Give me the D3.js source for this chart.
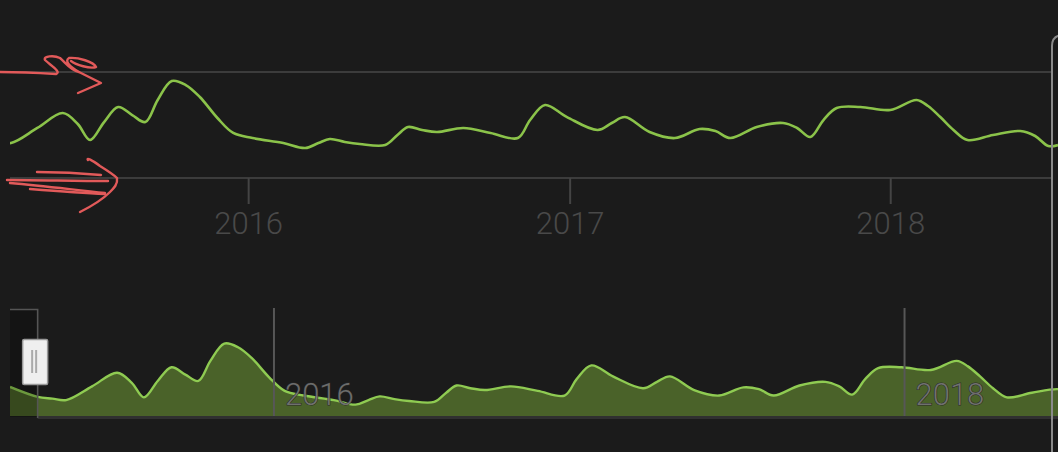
<!DOCTYPE html>
<html>
<head>
<meta charset="utf-8">
<script src="https://cdn.jsdelivr.net/npm/d3@7"></script>
<style>
  html, body { margin: 0; padding: 0; background: #1b1b1b; }
  svg { display: block; }
</style>
</head>
<body>
<svg id="chart" width="1058" height="452"></svg>
<script>
// ---- data ----
const dates = [
  "2015-01-31","2015-03-04","2015-03-21","2015-04-06","2015-05-06","2015-06-04","2015-06-21",
  "2015-07-05","2015-07-21","2015-08-06","2015-08-22","2015-09-06","2015-09-20","2015-10-06",
  "2015-10-22","2015-11-07","2015-11-27","2015-12-15","2016-01-06","2016-02-10","2016-03-06",
  "2016-03-21","2016-04-03","2016-04-20","2016-05-07","2016-06-05","2016-06-19","2016-07-01",
  "2016-07-17","2016-08-03","2016-09-02","2016-10-03","2016-11-03","2016-11-17","2016-12-04",
  "2016-12-29","2017-02-02","2017-02-18","2017-03-05","2017-04-02","2017-05-01","2017-05-29",
  "2017-06-16","2017-07-03","2017-08-02","2017-09-01","2017-09-17","2017-10-02","2017-10-17",
  "2017-11-01","2017-11-28","2018-01-01","2018-01-31","2018-02-13","2018-02-27","2018-03-14",
  "2018-03-30","2018-04-28","2018-05-29","2018-06-15","2018-06-30","2018-07-11"
];
const values = [
  46.6, 36.3, 34.5, 33.0, 47.2, 61.3, 50.9,
  35.8, 52.8, 67.0, 59.4, 52.8, 73.6, 91.5,
  87.7, 76.4, 56.6, 42.5, 37.7, 33.0, 28.3,
  33.0, 36.8, 34.0, 32.1, 31.1, 40.6, 48.1,
  45.3, 43.4, 47.2, 42.5, 37.7, 54.7, 68.9,
  57.5, 45.3, 51.9, 57.5, 43.4, 37.7, 46.2,
  44.3, 37.7, 48.1, 51.9, 47.2, 38.7, 54.7,
  66.0, 67.0, 64.2, 73.6, 67.9, 57.5, 45.3,
  35.8, 40.6, 44.3, 39.6, 30.2, 31.1
];
const mainRange = ["2015-04-06", "2018-07-11"];
const mainTicks = ["2016-01-01", "2017-01-01", "2018-01-01"];
const mainTickLabels = ["2016", "2017", "2018"];
const mainYDomain = [0, 100];
const mainYGrid = [0, 100];
const navRange = ["2015-01-31", "2018-07-11"];
const navTicks = ["2015-12-02", "2017-12-01"];
const navTickLabels = ["2016", "2018"];
const navYDomain = [16.5, 91.5];
const navSelectionStart = "2015-03-04";

// ---- setup ----
const parse = d3.utcParse("%Y-%m-%d");
const data = dates.map((d, i) => ({ date: parse(d), value: values[i] }));
const svg = d3.select("#chart");
const W = 1058, H = 452;
const curve = d3.curveCatmullRom.alpha(0.5);

svg.append("rect").attr("width", W).attr("height", H).attr("fill", "#1b1b1b");

const defs = svg.append("defs");
defs.append("clipPath").attr("id", "clipMain")
  .append("rect").attr("x", 10).attr("y", 40).attr("width", W - 10).attr("height", 160);
defs.append("clipPath").attr("id", "clipNav")
  .append("rect").attr("x", 10).attr("y", 300).attr("width", W - 10).attr("height", 117);

// ---- main chart ----
const x = d3.scaleUtc().domain(mainRange.map(parse)).range([11, 1058]);
const y = d3.scaleLinear().domain(mainYDomain).range([178, 72]);

const main = svg.append("g");
main.selectAll("line.grid").data(mainYGrid).join("line")
  .attr("class", "grid")
  .attr("x1", 10).attr("x2", 1052)
  .attr("y1", d => y(d)).attr("y2", d => y(d))
  .attr("stroke", "#3c3c3c").attr("stroke-width", 2);

const xAxis = d3.axisBottom(x)
  .tickValues(mainTicks.map(parse))
  .tickFormat((d, i) => mainTickLabels[i])
  .tickSize(26).tickPadding(8);
const gx = main.append("g").attr("transform", `translate(0,${y(0)})`).call(xAxis);
gx.select(".domain").remove();
gx.selectAll(".tick line").attr("stroke", "#444").attr("stroke-width", 2);
gx.selectAll(".tick text")
  .attr("fill", "#494949")
  .attr("font-family", "Roboto, 'Open Sans', sans-serif")
  .attr("font-weight", 300)
  .attr("font-size", 31);

const line = d3.line().x(d => x(d.date)).y(d => y(d.value)).curve(curve);
main.append("path").datum(data)
  .attr("clip-path", "url(#clipMain)")
  .attr("d", line)
  .attr("fill", "none")
  .attr("stroke", "#8bc34a")
  .attr("stroke-width", 2.6);

// ---- navigator ----
const nx = d3.scaleUtc().domain(navRange.map(parse)).range([10, 1095.8]);
const ny = d3.scaleLinear().domain(navYDomain).range([416, 343.6]);
const nav = svg.append("g");

const area = d3.area().x(d => nx(d.date)).y0(416).y1(d => ny(d.value)).curve(curve);
const nline = d3.line().x(d => nx(d.date)).y(d => ny(d.value)).curve(curve);

nav.append("path").datum(data)
  .attr("clip-path", "url(#clipNav)")
  .attr("d", area).attr("fill", "#4a6229");
nav.append("path").datum(data)
  .attr("clip-path", "url(#clipNav)")
  .attr("d", nline).attr("fill", "none")
  .attr("stroke", "#8fcb52").attr("stroke-width", 2.4);

// navigator axis (grid lines + labels)
const nAxis = d3.axisTop(nx)
  .tickValues(navTicks.map(parse))
  .tickFormat((d, i) => navTickLabels[i])
  .tickSize(108).tickPadding(0);
const gnx = nav.append("g").attr("transform", "translate(0,416)").call(nAxis);
gnx.select(".domain").remove();
gnx.selectAll(".tick line").attr("stroke", "#575757").attr("stroke-width", 2);
gnx.selectAll(".tick text")
  .attr("text-anchor", "start")
  .attr("x", 11).attr("y", -11)
  .attr("fill", "#7a7a7a")
  .attr("fill-opacity", 0.85)
  .attr("stroke", "#2a2a2a")
  .attr("stroke-width", 1)
  .attr("paint-order", "stroke")
  .attr("font-family", "Roboto, 'Open Sans', sans-serif")
  .attr("font-weight", 300)
  .attr("font-size", 31);

// mask over unselected part
const selX = nx(parse(navSelectionStart));
nav.append("rect")
  .attr("x", 10).attr("y", 309).attr("width", selX - 10).attr("height", 108)
  .attr("fill", "#000").attr("fill-opacity", 0.25);

// bottom band + outline
nav.append("rect").attr("x", selX).attr("y", 416).attr("width", W - selX).attr("height", 3)
  .attr("fill", "#303030");
nav.append("path")
  .attr("d", `M10,309.5 L${selX},309.5 L${selX},418`)
  .attr("fill", "none").attr("stroke", "#555").attr("stroke-width", 1.6);

// handle
const hx = selX - 15;
nav.append("rect")
  .attr("x", hx).attr("y", 339.5).attr("width", 25).attr("height", 45)
  .attr("rx", 1.5)
  .attr("fill", "#efefef").attr("stroke", "#9a9a9a").attr("stroke-width", 1.5);
[hx + 9.5, hx + 13.5].forEach(gx0 => {
  nav.append("line").attr("x1", gx0).attr("x2", gx0).attr("y1", 350).attr("y2", 373)
    .attr("stroke", "#aaa").attr("stroke-width", 2);
});

// right panel border
svg.append("path")
  .attr("d", "M1052,452 L1052,46 Q1052,36 1062,35")
  .attr("fill", "none").attr("stroke", "#8a8a8a").attr("stroke-width", 2);

// hand-drawn red annotation arrows
const red = svg.append("g").attr("fill", "none").attr("stroke", "#e25a5a")
  .attr("stroke-width", 2.4).attr("stroke-linecap", "round").attr("stroke-linejoin", "round");
red.append("path").attr("d",
  "M0,72 C20,72 40,73 56,74 C62,72 50,65 45,60 C43,56 54,55 60,58 C66,63 70,70 79,72 " +
  "C70,67 64,61 69,58 C78,57 94,62 96,67 C90,69 76,65 71,61");
red.append("path").attr("d", "M79,72 L101,83 L78,93");
red.append("path").attr("d", "M37,172 C60,172 80,173 101,175");
red.append("path").attr("d", "M7,180 C40,180 75,181 108,181");
red.append("path").attr("d", "M10,183 C45,186 75,190 105,193");
red.append("path").attr("d", "M30,189 C55,191 80,193 105,194");
red.append("path").attr("d",
  "M88,160 C86,157 92,160 100,166 C108,171 114,175 117,178 C118,184 114,188 110,192 C102,200 92,206 80,212");
</script>
</body>
</html>
